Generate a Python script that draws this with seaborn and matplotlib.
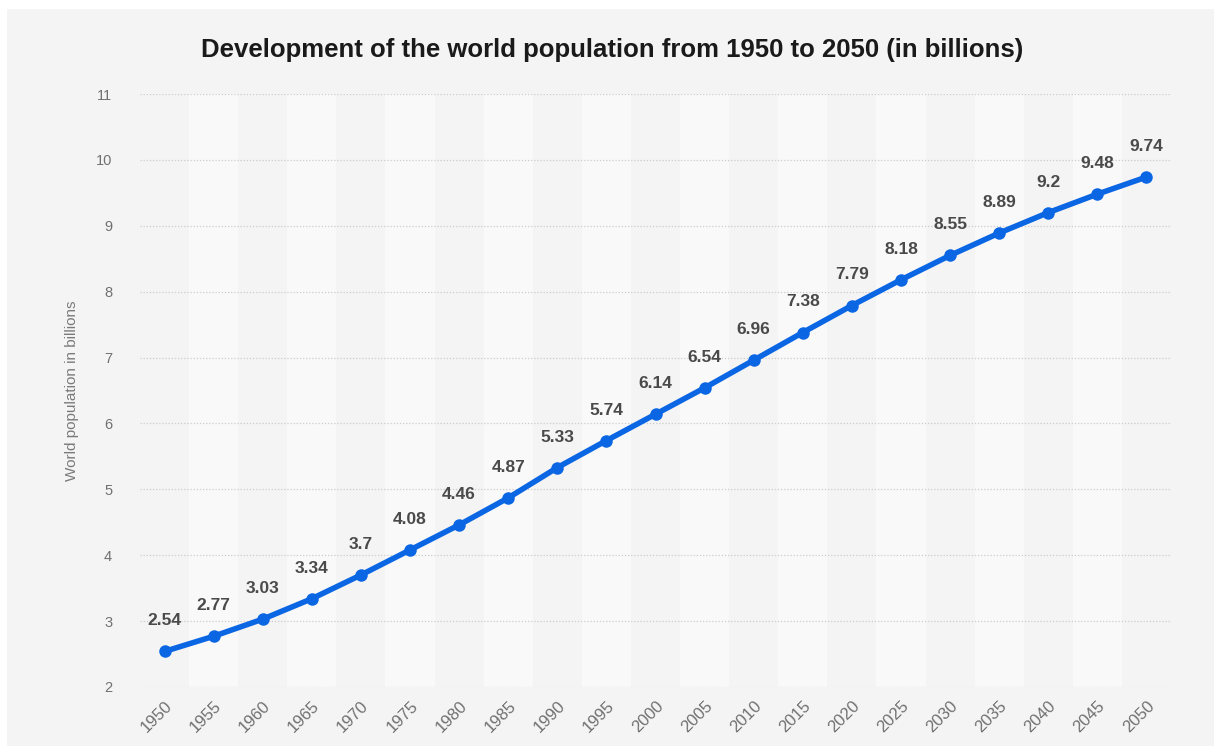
import pandas as pd
import matplotlib.pyplot as plt
import seaborn as sns
from matplotlib.patches import Rectangle

# values
years = [1950, 1955, 1960, 1965, 1970, 1975, 1980, 1985, 1990, 1995, 2000,
         2005, 2010, 2015, 2020, 2025, 2030, 2035, 2040, 2045, 2050]
population = [2.54, 2.77, 3.03, 3.34, 3.7, 4.08, 4.46, 4.87, 5.33, 5.74, 6.14,
              6.54, 6.96, 7.38, 7.79, 8.18, 8.55, 8.89, 9.2, 9.48, 9.74]
labels = ['2.54', '2.77', '3.03', '3.34', '3.7', '4.08', '4.46', '4.87', '5.33',
          '5.74', '6.14', '6.54', '6.96', '7.38', '7.79', '8.18', '8.55', '8.89',
          '9.2', '9.48', '9.74']
y_ticks = [2, 3, 4, 5, 6, 7, 8, 9, 10, 11]

df = pd.DataFrame({'year': years, 'population': population})

sns.set_style('white')
plt.rcParams['font.family'] = ['Liberation Sans', 'DejaVu Sans']

bg = '#f4f4f4'
fig = plt.figure(figsize=(12.14, 7.46), dpi=100)
fig.patch.set_facecolor('white')
# gray card with a thin white margin top/left
card = Rectangle((7 / 1214, 0), 1, 1 - 9 / 746, transform=fig.transFigure,
                 facecolor=bg, edgecolor='none', zorder=-10)
fig.add_artist(card)

ax = fig.add_axes([140 / 1214, 1 - 687 / 746, 1031 / 1214, 593 / 746])
ax.set_zorder(1)
ax.set_facecolor(bg)

# alternating column bands
for i, yr in enumerate(years):
    if i % 2 == 1:
        ax.axvspan(yr - 2.5, yr + 2.5, color='#f9f9f9', zorder=0, lw=0)

for t in y_ticks:
    ax.axhline(t, color='#cccccc', lw=0.9, ls=(0, (1, 1.5)), zorder=1)

sns.lineplot(x='year', y='population', data=df, ax=ax, color='#0b66e4',
             lw=4, marker='o', markersize=9, markeredgewidth=0, zorder=3)

for yr, val, lab in zip(years, population, labels):
    ax.annotate(lab, (yr, val), xytext=(0, 22), textcoords='offset points',
                ha='center', va='center', fontsize=12.5, fontweight='bold',
                color='#4a4a4a', zorder=4)

ax.set_xlim(years[0] - 2.5, years[-1] + 2.5)
ax.set_ylim(2, 11)
ax.set_yticks(y_ticks)
ax.set_xticks(years)
ax.set_xticklabels([str(y) for y in years], rotation=45, ha='right',
                   rotation_mode='anchor')
ax.tick_params(axis='both', length=0, labelcolor='#707070')
ax.tick_params(axis='x', pad=8, labelsize=12)
ax.tick_params(axis='y', pad=20, labelsize=10.5)
for s in ax.spines.values():
    s.set_visible(False)

ax.set_xlabel('')
ax.set_ylabel('World population in billions', fontsize=11, color='#7a7a7a',
              labelpad=12)

fig.text(612 / 1214, 1 - 50 / 746,
         'Development of the world population from 1950 to 2050 (in billions)',
         ha='center', va='center', fontsize=18.5, fontweight='bold', color='#1a1a1a')

plt.savefig('out.png', dpi=100, facecolor=fig.get_facecolor())
